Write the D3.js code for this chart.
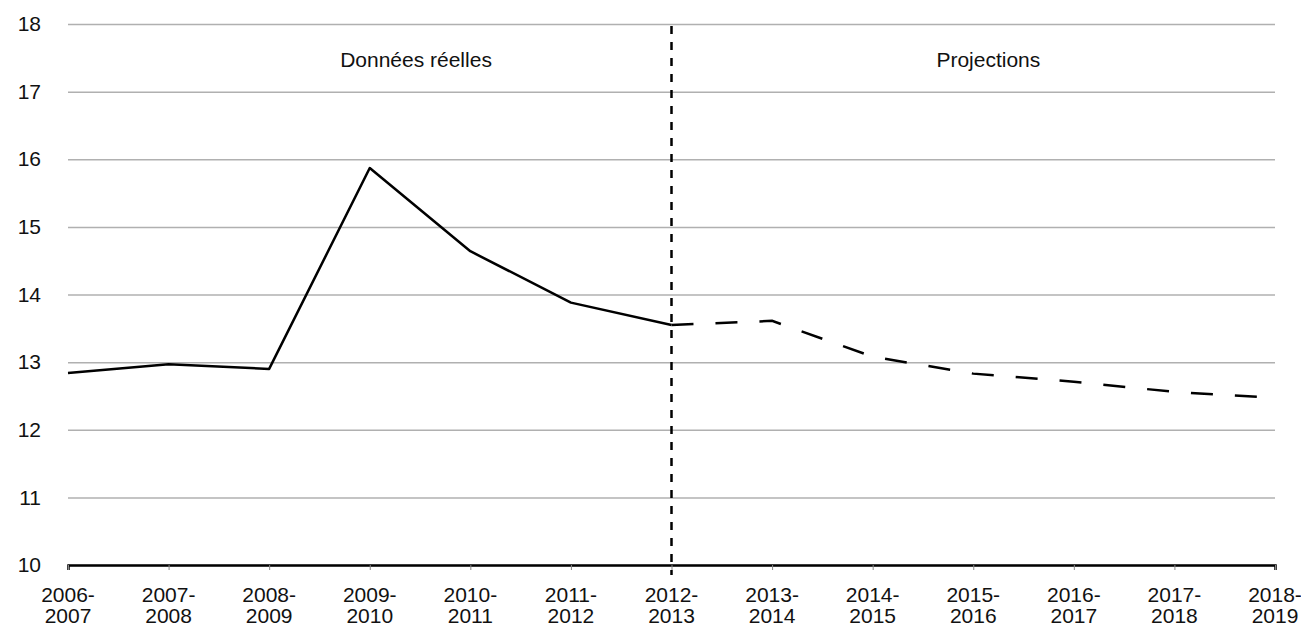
<!DOCTYPE html>
<html>
<head>
<meta charset="utf-8">
<script src="https://cdn.jsdelivr.net/npm/d3@7"></script>
<style>
  body { margin: 0; background: #fff; }
  text { font-family: "Liberation Sans", Arial, Helvetica, sans-serif; fill: #111; }
</style>
</head>
<body>
<svg id="chart" width="1301" height="628"></svg>
<script>
'use strict'

// ------ data ------
var periods = ['2006-2007', '2007-2008', '2008-2009', '2009-2010', '2010-2011', '2011-2012',
  '2012-2013', '2013-2014', '2014-2015', '2015-2016', '2016-2017', '2017-2018', '2018-2019']
var actual = [12.84, 12.97, 12.90, 15.87, 14.64, 13.88, 13.55]
var projected = [13.55, 13.61, 13.08, 12.83, 12.71, 12.56, 12.47]
var yTicks = [10, 11, 12, 13, 14, 15, 16, 17, 18]
var labels = ['Données réelles', 'Projections']

var svg = d3.select('#chart')
var plotLeft = 68, plotRight = 1275, plotTop = 24, plotBottom = 565

var x = d3.scaleLinear().domain([0, periods.length - 1]).range([plotLeft, plotRight])
var y = d3.scaleLinear().domain([10, 18]).range([plotBottom, plotTop])

// ------ gridlines + y labels ------
svg.append('g')
  .attr('transform', 'translate(' + plotLeft + ',0)')
  .call(d3.axisLeft(y).tickValues(yTicks).tickSize(-(plotRight - plotLeft)).tickPadding(27))
  .call(function (g) {
    g.select('.domain').remove()
    g.selectAll('.tick line').attr('stroke', '#b0b0b0').attr('stroke-width', 1.5)
    g.selectAll('.tick text').attr('font-size', 21).attr('fill', '#111')
      .style('font-family', '"Liberation Sans", Arial, sans-serif')
  })

// ------ x axis ------
var xAxis = svg.append('g')
  .attr('transform', 'translate(0,' + plotBottom + ')')
  .call(d3.axisBottom(x).tickValues(d3.range(periods.length)).tickSize(5).tickFormat(''))
xAxis.select('.domain').attr('stroke', '#000').attr('stroke-width', 2.5)
xAxis.selectAll('.tick line').attr('stroke', '#888').attr('stroke-width', 1)

// two-line period labels: "2006-" over "2007"
var tickText = svg.append('g').selectAll('text')
  .data(periods)
  .enter().append('text')
  .attr('text-anchor', 'middle')
  .attr('font-size', 21)
  .attr('x', function (d, i) { return x(i) })
  .attr('y', 602)
tickText.append('tspan')
  .attr('x', function (d, i) { return x(i) })
  .text(function (d) { return d.split('-')[0] + '-' })
tickText.append('tspan')
  .attr('x', function (d, i) { return x(i) })
  .attr('dy', 21)
  .text(function (d) { return d.split('-')[1] })

// ------ divider between actual and projected ------
svg.append('line')
  .attr('x1', x(6)).attr('x2', x(6))
  .attr('y1', y(18) + 2).attr('y2', plotBottom + 10)
  .attr('stroke', '#000').attr('stroke-width', 2.5)
  .attr('stroke-dasharray', '8,8')

// ------ section labels ------
svg.append('text')
  .attr('x', x(3.46)).attr('y', 67)
  .attr('text-anchor', 'middle').attr('font-size', 21)
  .text(labels[0])
svg.append('text')
  .attr('x', x(9.15)).attr('y', 67)
  .attr('text-anchor', 'middle').attr('font-size', 21)
  .text(labels[1])

// ------ lines ------
var line = d3.line()
  .x(function (d) { return x(d[0]) })
  .y(function (d) { return y(d[1]) })

svg.append('path')
  .datum(actual.map(function (v, i) { return [i, v] }))
  .attr('fill', 'none').attr('stroke', '#000').attr('stroke-width', 2.5)
  .attr('stroke-linejoin', 'round')
  .attr('d', line)

svg.append('path')
  .datum(projected.map(function (v, i) { return [i + 6, v] }))
  .attr('fill', 'none').attr('stroke', '#000').attr('stroke-width', 2.5)
  .attr('stroke-dasharray', '22,22')
  .attr('d', line)
</script>
</body>
</html>
